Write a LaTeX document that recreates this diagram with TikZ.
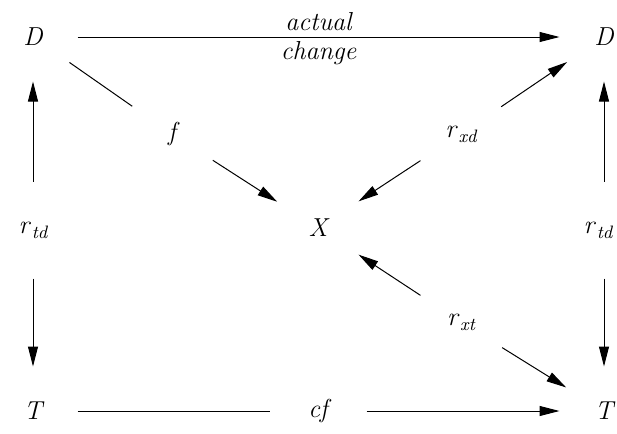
\documentclass[tikz,border=0pt]{standalone}
\usepackage{fontspec}
\usepackage{tikz}
\usetikzlibrary{arrows.meta}
\usetikzlibrary{positioning}

\newcommand{\rsub}[1]{r\hspace{1.2pt}\raisebox{-2.4pt}{\fontsize{9}{10}\selectfont #1}}

\begin{document}
\begin{tikzpicture}[x=0.5pt,y=-0.5pt,->,>={Triangle[length=10pt,width=5pt]},line width=0.5pt,
		font=\rmfamily\itshape\fontsize{13}{15}\selectfont,
		main node/.style={circle,inner sep=0pt,minimum size=44pt},
		label node/.style={circle,inner sep=0pt,minimum size=48pt}]

	\useasboundingbox (0,0) rectangle (617,434);

	\node[main node] (D1) at (33,37) {D};
	\node[main node] (D2) at (604,37) {D};
	\node[label node] (X) at (318,228) {X};
	\node[main node] (T1) at (33,411) {T};
	\node[main node] (T2) at (604,411) {T};

	\node[label node] (f) at (172,134) {f};
	\node[label node] (rxd) at (461,134) {\rsub{xd}};
	\node[label node] (rtd1) at (33,230) {\rsub{td}};
	\node[label node] (rtd2) at (598,230) {\rsub{td}};
	\node[label node] (rxt) at (461,322) {\rsub{xt}};
	\node[label node] (cf) at (318,411) {cf};

	\path (D1) edge node[above,inner sep=3pt] {actual} node[below,inner sep=2pt] {change} (D2)
	(D1) edge[-] (f) (f) edge (X)
	(rxd) edge (D2) (rxd) edge (X)
	(rtd1) edge (D1) (rtd1) edge (T1)
	(rtd2.north -| D2) edge (D2) (rtd2.south -| T2) edge (T2)
	(rxt) edge (X) (rxt) edge (T2)
	(T1) edge[-] (cf) (cf) edge (T2);

\end{tikzpicture}
\end{document}
